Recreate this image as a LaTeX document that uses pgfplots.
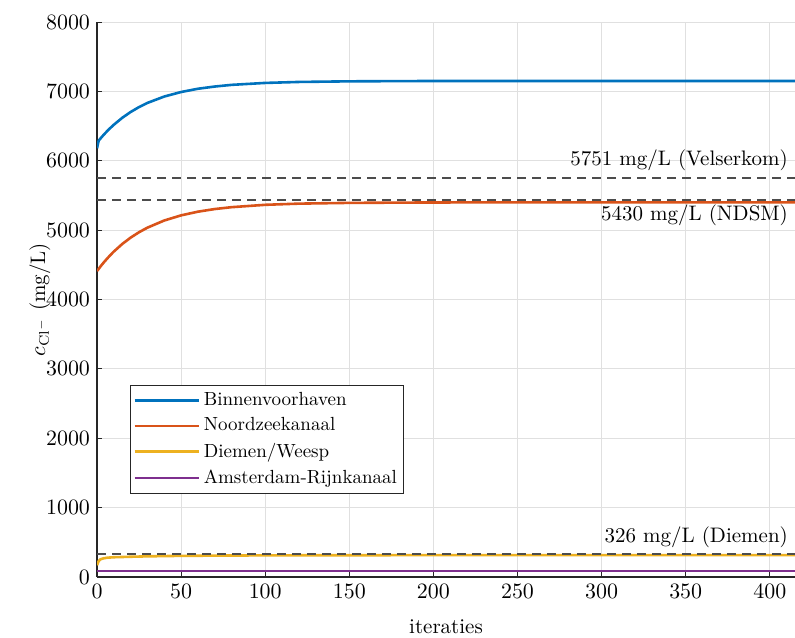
\documentclass[border=0pt]{standalone}
\usepackage{pgfplots}
\pgfplotsset{compat=1.18}
\definecolor{c1}{rgb}{0,0.447,0.741}
\definecolor{c2}{rgb}{0.85,0.325,0.098}
\definecolor{c3}{rgb}{0.929,0.694,0.125}
\definecolor{c4}{rgb}{0.494,0.184,0.556}
\definecolor{ax}{rgb}{0.15,0.15,0.15}
\definecolor{dsh}{rgb}{0.3,0.3,0.3}
\begin{document}
\begin{tikzpicture}
\path[use as bounding box] (-48.5pt,-30pt) rectangle (349pt,288.5pt);
\begin{axis}[
  at={(0,0)}, anchor=south west,
  scale only axis, width=349pt, height=277.5pt,
  xmin=0, xmax=415, ymin=0, ymax=8000,
  axis lines=left,
  axis line style={-, draw=ax, line width=0.6pt},
  xtick={0,50,...,400}, ytick={0,1000,...,8000},
  tick align=inside, major tick length=2.5pt,
  tick style={draw=ax, line width=0.5pt},
  grid=major, grid style={draw=black!12, line width=0.4pt},
  tick label style={font=\fontsize{10.5}{12}\selectfont, text=black},
  scaled ticks=false,
  yticklabel style={/pgf/number format/1000 sep={}},
  xlabel={iteraties},
  ylabel={$c_{\mathrm{Cl}^-}$ (mg/L)},
  label style={font=\fontsize{10.5}{12}\selectfont},
  xlabel style={at={(axis description cs:0.5,-0.09)}, anchor=center},
  ylabel style={at={(axis description cs:-0.082,0.5)}, anchor=center},
  legend style={at={(axis description cs:0.047,0.346)}, anchor=north west,
    draw=ax, font=\fontsize{9.5}{11.5}\selectfont,
    inner sep=1.5pt, row sep=0.6pt},
  legend cell align=left,
  legend image code/.code={\draw[#1] (0pt,0pt) -- (32pt,0pt);},
  legend image post style={line width=1.3pt},
  clip=true,
]
\addplot[c1, line width=1.3pt] coordinates {
(0,6180) (1,6290) (2,6319) (4,6375) (6,6426) (8,6474) (10,6519) (15,6619)
(20,6703) (25,6774) (30,6834) (40,6926) (50,6991) (60,7038) (70,7070)
(80,7094) (100,7122) (120,7136) (150,7145) (200,7150) (300,7150) (415,7150)};
\addlegendentry{Binnenvoorhaven}
\addplot[c2, line width=1.3pt] coordinates {
(0,4410) (2,4474) (4,4534) (6,4589) (8,4642) (10,4691) (15,4800) (20,4892)
(25,4970) (30,5036) (40,5139) (50,5213) (60,5266) (70,5304) (80,5331)
(100,5365) (120,5382) (150,5393) (200,5399) (300,5400) (415,5400)};
\addlegendentry{Noordzeekanaal}
\addplot[c3, line width=1.3pt] coordinates {
(0,170) (1,230) (2,255) (4,270) (6,278) (10,285) (20,292) (30,298)
(50,305) (80,310) (120,313) (200,315) (300,316) (415,316)};
\addlegendentry{Diemen/Weesp}
\addplot[c4, line width=1.3pt] coordinates {
(0,88) (100,88) (200,88) (300,88) (415,88)};
\addlegendentry{Amsterdam-Rijnkanaal}
\addplot[dsh, line width=1pt, dash pattern=on 4.5pt off 3pt, forget plot] coordinates {(0,5751) (415,5751)};
\addplot[dsh, line width=1pt, dash pattern=on 4.5pt off 3pt, forget plot] coordinates {(0,5430) (415,5430)};
\addplot[dsh, line width=1pt, dash pattern=on 4.5pt off 3pt, forget plot] coordinates {(0,326) (415,326)};
\node[anchor=east, inner sep=0pt, yshift=9pt, font=\fontsize{10.5}{12}\selectfont] at (axis cs:411,5751) {5751 mg/L (Velserkom)};
\node[anchor=east, inner sep=0pt, yshift=-7.5pt, font=\fontsize{10.5}{12}\selectfont] at (axis cs:411,5430) {5430 mg/L (NDSM)};
\node[anchor=east, inner sep=0pt, yshift=8.5pt, font=\fontsize{10.5}{12}\selectfont] at (axis cs:411,326) {326 mg/L (Diemen)};
\end{axis}
\end{tikzpicture}
\end{document}
